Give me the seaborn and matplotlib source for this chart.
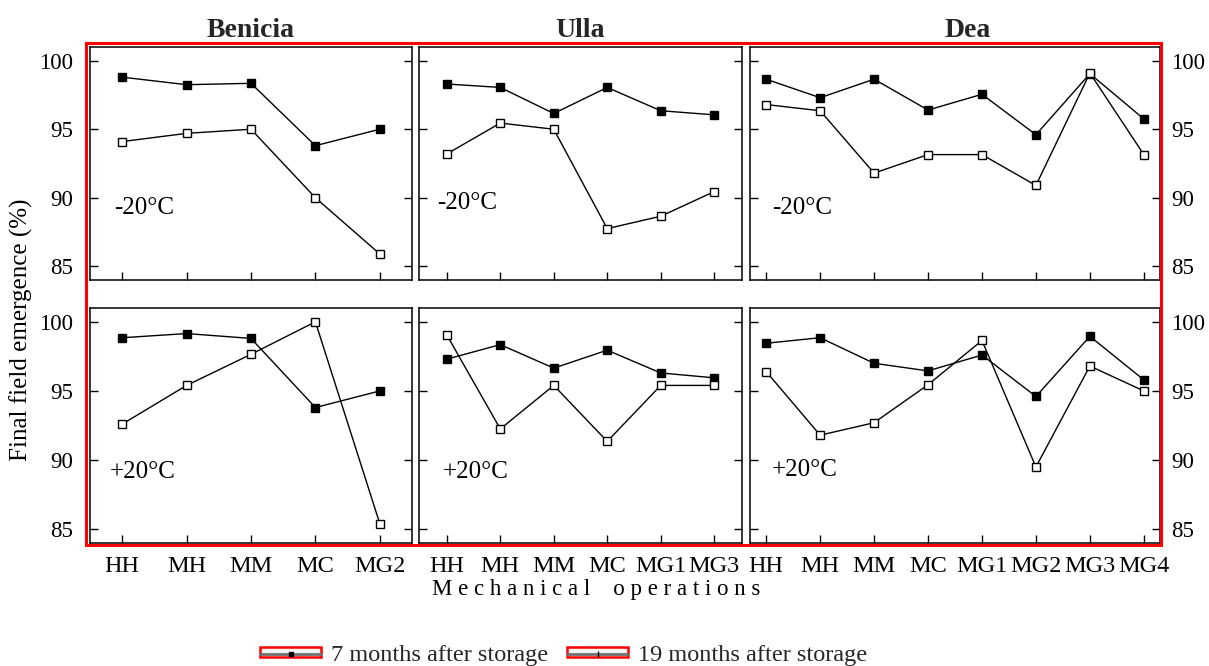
import numpy as np
import pandas as pd
import matplotlib
matplotlib.use("Agg")
import matplotlib.pyplot as plt
from matplotlib.patches import Rectangle, Patch
from matplotlib.lines import Line2D
from matplotlib.legend_handler import HandlerTuple
import seaborn as sns

# ---------------- data ----------------
benicia_ops = ["HH", "MH", "MM", "MC", "MG2"]
ulla_ops = ["HH", "MH", "MM", "MC", "MG1", "MG3"]
dea_ops = ["HH", "MH", "MM", "MC", "MG1", "MG2", "MG3", "MG4"]

benicia_m20_7 = [98.8, 98.25, 98.35, 93.8, 95.0]
benicia_m20_19 = [94.1, 94.7, 95.0, 90.0, 85.9]
ulla_m20_7 = [98.3, 98.05, 96.15, 98.05, 96.35, 96.05]
ulla_m20_19 = [93.2, 95.45, 95.0, 87.75, 88.65, 90.45]
dea_m20_7 = [98.65, 97.3, 98.65, 96.4, 97.55, 94.6, 99.05, 95.75]
dea_m20_19 = [96.8, 96.35, 91.8, 93.15, 93.15, 90.9, 99.1, 93.15]

benicia_p20_7 = [98.85, 99.15, 98.8, 93.8, 95.0]
benicia_p20_19 = [92.6, 95.4, 97.65, 100.0, 85.4]
ulla_p20_7 = [97.3, 98.35, 96.65, 97.95, 96.3, 95.95]
ulla_p20_19 = [99.05, 92.25, 95.4, 91.35, 95.4, 95.4]
dea_p20_7 = [98.45, 98.85, 97.0, 96.45, 97.6, 94.6, 98.95, 95.8]
dea_p20_19 = [96.4, 91.8, 92.7, 95.45, 98.65, 89.5, 96.8, 95.0]

cultivars = ["Benicia", "Ulla", "Dea"]
temps = ["-20°C", "+20°C"]
series_names = ["7 months after storage", "19 months after storage"]
yticks = [85, 90, 95, 100]

# ---------------- style ----------------
sns.set_theme(style="white")
plt.rcParams["font.family"] = ["Liberation Serif", "DejaVu Serif"]

W, H = 1209, 666
fig = plt.figure(figsize=(W / 100, H / 100), dpi=100)

def fx(px):
    return px / W

def fy(py):
    return 1 - py / H

# panel boxes in pixel coordinates
col_px = [(90, 412), (419, 742), (750, 1160)]
row_px = [(47, 280), (308, 543)]
xpad = [0.5, 0.52, 0.3]

ops = [benicia_ops, ulla_ops, dea_ops]
vals = [
    [(benicia_m20_7, benicia_m20_19), (ulla_m20_7, ulla_m20_19), (dea_m20_7, dea_m20_19)],
    [(benicia_p20_7, benicia_p20_19), (ulla_p20_7, ulla_p20_19), (dea_p20_7, dea_p20_19)],
]
temp_pos = [
    [(0.075, 0.31), (0.055, 0.33), (0.054, 0.31)],
    [(0.062, 0.30), (0.074, 0.30), (0.054, 0.31)],
]

for r in range(2):
    for c in range(3):
        l, rr = col_px[c]
        t, b = row_px[r]
        ax = fig.add_axes([fx(l), fy(b), (rr - l) / W, (b - t) / H])
        cats = ops[c]
        xs = np.arange(len(cats))
        v7, v19 = vals[r][c]
        df = pd.DataFrame({"x": np.concatenate([xs, xs]),
                           "y": np.concatenate([v7, v19]),
                           "s": [series_names[0]] * len(xs) + [series_names[1]] * len(xs)})
        sns.lineplot(data=df[df.s == series_names[0]], x="x", y="y", sort=False, ax=ax,
                     color="black", lw=1.0, marker="s", markersize=5.8,
                     markerfacecolor="black", markeredgecolor="black", markeredgewidth=1,
                     legend=False)
        sns.lineplot(data=df[df.s == series_names[1]], x="x", y="y", sort=False, ax=ax,
                     color="black", lw=1.0, marker="s", markersize=5.8,
                     markerfacecolor="white", markeredgecolor="black", markeredgewidth=1,
                     legend=False)
        ax.set_xlim(-xpad[c], len(cats) - 1 + xpad[c])
        ax.set_ylim(84.0, 101.0)
        ax.set_xticks(xs)
        ax.set_yticks(yticks)
        ax.set_xlabel("")
        ax.set_ylabel("")
        for sp in ax.spines.values():
            sp.set_color("black")
            sp.set_linewidth(1.1)
        ax.tick_params(axis="both", direction="in", length=6, width=1, colors="black")
        ax.tick_params(axis="y", left=True, right=True, labelsize=16.5,
                       labelleft=(c == 0), labelright=(c == 2),
                       pad=(12 if c == 0 else 8))
        ax.tick_params(axis="x", bottom=True, top=False, labelbottom=(r == 1),
                       labelsize=17.5, pad=9)
        if r == 1:
            ax.set_xticklabels(cats)
        else:
            ax.set_xticklabels([])
            ttl_x = 0.53 if c == 2 else 0.5
            ax.set_title(cultivars[c], fontsize=20, fontweight="bold", pad=7, x=ttl_x)
        tx, ty = temp_pos[r][c]
        ax.text(tx, ty, temps[r], transform=ax.transAxes, ha="left", va="center",
                fontsize=18, color="black")

# axis labels
fig.text(0.018, fy(330), "Final field emergence (%)", rotation=90, ha="center",
         va="center", fontsize=18, color="black")
fig.text(fx(596), fy(590), "M e c h a n i c a l    o p e r a t i o n s", ha="center",
         va="center", fontsize=16.5, color="black")

# red frame around the panel grid
fig.patches.append(Rectangle((fx(85.5), fy(545)), (1161 - 85.5) / W, (545 - 43) / H,
                             transform=fig.transFigure, fill=False, ec="red", lw=2.2,
                             zorder=10))

# legend
h1 = (Patch(facecolor="#f4f4f4", edgecolor="red", lw=1.8),
      Line2D([], [], color="#707070", lw=2.0, marker="s", markersize=3.5,
             markerfacecolor="black", markeredgecolor="black"))
h2 = (Patch(facecolor="#f4f4f4", edgecolor="red", lw=1.8),
      Line2D([], [], color="#707070", lw=2.0, marker="|", markersize=4,
             markeredgecolor="black"))
fig.legend([h1, h2], series_names, handler_map={tuple: HandlerTuple(ndivide=1, pad=0)},
           loc="center", bbox_to_anchor=(fx(563.5), fy(655)), ncol=2, frameon=False,
           fontsize=17.5, handlelength=2.5, handleheight=0.25, handletextpad=0.4,
           columnspacing=0.8, borderpad=0)

fig.savefig("out.png", dpi=100)
